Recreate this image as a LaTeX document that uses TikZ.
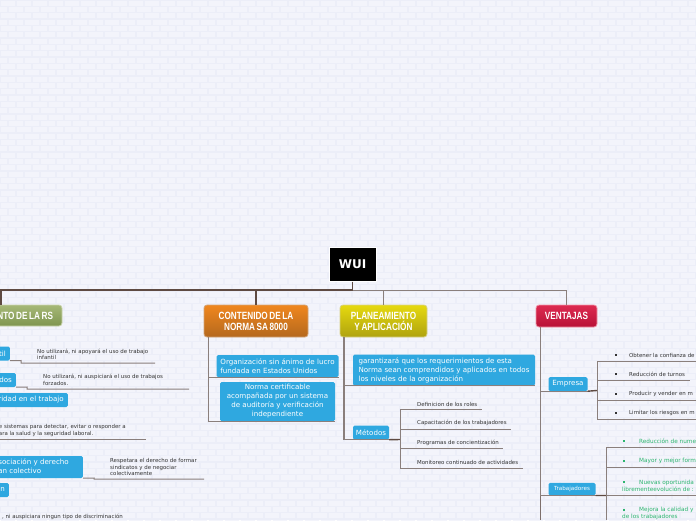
\documentclass[tikz,border=0pt]{standalone}
\usepackage{fontspec}
\setmainfont{DejaVu Sans}
\newfontfamily\headfont[FakeStretch=0.78]{Liberation Sans}
\newcommand{\tightwords}{\spaceskip 1.6pt\relax}
\usetikzlibrary{positioning}
\definecolor{wallbg}{HTML}{ECEEF8}
\definecolor{brick}{HTML}{F3F4FB}
\definecolor{bluebox}{HTML}{2FA8E0}
\definecolor{linedark}{HTML}{5E4A42}
\definecolor{linesoft}{HTML}{8A7F7C}
\definecolor{greentext}{HTML}{2DB56F}
\definecolor{smalltext}{HTML}{333333}
\definecolor{greentop}{HTML}{A6B877}
\definecolor{greenlow}{HTML}{7E9550}
\definecolor{orangetop}{HTML}{F0871E}
\definecolor{orangelow}{HTML}{B4681E}
\definecolor{yellowtop}{HTML}{E6D90F}
\definecolor{yellowlow}{HTML}{AFA30F}
\definecolor{redtop}{HTML}{DD2A50}
\definecolor{redlow}{HTML}{B81238}

\begin{document}
\begin{tikzpicture}[x=1pt,y=-1pt]

  \tikzstyle{topic}=[rounded corners=3pt,line width=0.8pt,inner sep=0pt,text=white,
                     align=center,font=\headfont\bfseries\fontsize{10.5}{11}\selectfont\tightwords]
  \tikzstyle{green topic}=[topic,draw=greentop!60!white,top color=greentop,bottom color=greenlow]
  \tikzstyle{orange topic}=[topic,draw=orangelow!60!white,top color=orangetop,bottom color=orangelow]
  \tikzstyle{yellow topic}=[topic,draw=yellowlow!50!white,top color=yellowtop,bottom color=yellowlow]
  \tikzstyle{red topic}=[topic,draw=redtop!50!white,top color=redtop,bottom color=redlow]
  \tikzstyle{box}=[rounded corners=1.5pt,fill=bluebox,inner sep=0pt,text=white,
                   font=\fontsize{7.1}{9}\selectfont]
  \tikzstyle{leaf}=[inner sep=0pt,anchor=west,align=left,text=smalltext,
                    font=\fontsize{5.45}{6.6}\selectfont]
  \tikzstyle{good leaf}=[leaf,text=greentext,font=\fontsize{5.75}{7.2}\selectfont]
  \tikzstyle{trunk}=[draw=linedark,line width=1.2pt]
  \tikzstyle{branch}=[draw=linesoft,line width=1pt]
  \tikzstyle{stub}=[draw=linedark,line width=1.4pt]

  \newcommand{\cutbox}[3]{\makebox[#1][r]{#3\hspace*{#2}}}
  \newcommand{\dotmark}{\rule[0.6pt]{2.2pt}{2.2pt}}

  \useasboundingbox (0,0) rectangle (696,520);
  \clip (0,0) rectangle (696,520);

  % wall
  \fill[wallbg] (0,0) rectangle (696,520);
  \foreach \r in {0,...,82} {
    \pgfmathsetmacro{\shift}{mod(\r,2)*8}
    \foreach \c in {-1,...,44} {
      \fill[brick] ({\c*16+\shift+0.6},{\r*6.33+0.6}) rectangle ({\c*16+\shift+15.4},{\r*6.33+5.7});
    }
  }

  % main topics
  \node [fill=black,draw=white,line width=1pt,minimum width=47pt,minimum height=34pt,inner sep=0pt,
         text=white,font=\fontsize{12}{13}\selectfont\bfseries] (wui) at (352.5,264) {WUI};
  \coordinate (hub) at (352.5,290);

  \node [green topic,minimum width=122pt,minimum height=21pt] (cumpl) at (1,315.5) {\cutbox{122pt}{9pt}{NTO DE LA RS}};
  \node [orange topic,minimum width=104pt,minimum height=32pt] (norma) at (256,321) {CONTENIDO DE LA\\NORMA SA 8000};
  \node [yellow topic,minimum width=87pt,minimum height=32pt] (plan) at (383.5,321) {PLANEAMIENTO\\Y APLICACIÓN};
  \node [red topic,minimum width=61pt,minimum height=22pt] (vent) at (566.5,316) {VENTAJAS};

  \draw[trunk] (wui.south) -- (hub);
  \draw[trunk] (hub) -| (cumpl.north);
  \draw[trunk] (hub) -| (norma.north);
  \draw[branch] (hub) -| (plan.north);
  \draw[branch] (hub) -| (vent.north);

  % contenido
  \node [box,minimum width=122pt,minimum height=22pt,align=left] (lucro) at (277.5,366)
    {Organización sin ánimo de lucro\\fundada en Estados Unidos};
  \node [box,minimum width=115pt,minimum height=39pt,align=center] (certif) at (277.5,401.5)
    {Norma certificable\\acompañada por un sistema\\de auditoría y verificación\\independiente};
  \coordinate (normaroot) at (208,337);
  \draw[branch] (normaroot) |- (lucro.south east);
  \draw[branch] (normaroot) |- (certif.south east);

  % planeamiento
  \node [box,minimum width=182pt,minimum height=31pt,align=left] (garant) at (444,370)
    {garantizará que los requerimientos de esta\\Norma sean comprendidos y aplicados en todos\\los niveles de la organización};
  \node [box,minimum width=36pt,minimum height=14pt] (metodos) at (371,432.5) {Métodos};
  \coordinate (planroot) at (344,337);
  \draw[trunk,draw=linesoft] (planroot) |- (garant.south east);
  \draw[trunk,draw=linesoft] (planroot) |- (metodos.south east);

  \coordinate (metfork) at (400,439.5);
  \coordinate (rolesend) at (482,409.5);
  \coordinate (capend) at (511,429);
  \coordinate (progend) at (503,448.5);
  \coordinate (monend) at (523,468);
  \draw[stub] (metodos.south east) -- (metfork);
  \draw[branch] (metfork) |- (rolesend);
  \draw[branch] (metfork) |- (capend);
  \draw[branch] (metfork) |- (progend);
  \draw[branch] (metfork) |- (monend);
  \node [leaf] (roles) at (417,404) {Definicion de los roles};
  \node [leaf] (capac) at (417,423) {Capacitación de los trabajadores};
  \node [leaf] (progr) at (417,443) {Programas de concientización};
  \node [leaf] (monit) at (417,462) {Monitoreo continuado de actividades};

  % ventajas
  \node [box,minimum width=39pt,minimum height=14pt] (empresa) at (568,384) {Empresa};
  \node [box,minimum width=47pt,minimum height=12.5pt,font=\fontsize{5.6}{7}\selectfont] (trabaj) at (572,489) {Trabajadores};
  \coordinate (ventroot) at (540.5,327);
  \coordinate (ventend) at (540.5,520);
  \draw[trunk,draw=linesoft!70!linedark] (ventroot) -- (ventend);
  \draw[branch] (ventroot) |- (empresa.south east);
  \draw[branch] (ventroot) |- (trabaj.south east);

  \coordinate (empfork) at (597,390.5);
  \coordinate (confend) at (696,361);
  \coordinate (turnend) at (690,380.5);
  \coordinate (prodend) at (696,400);
  \coordinate (riesend) at (696,419);
  \draw[stub] (empresa.south east) -- (empfork);
  \draw[branch] (empfork) |- (confend);
  \draw[branch] (empfork) |- (turnend);
  \draw[branch] (empfork) |- (prodend);
  \draw[branch] (empfork) |- (riesend);
  \node [leaf] (bulA) at (614.5,355) {\dotmark};
  \node [leaf] (bulB) at (614.5,374) {\dotmark};
  \node [leaf] (bulC) at (614.5,394) {\dotmark};
  \node [leaf] (bulD) at (614.5,413) {\dotmark};
  \node [leaf] (conf) at (629,355) {Obtener la confianza de};
  \node [leaf] (turn) at (629,374) {Reducción de turnos};
  \node [leaf] (prod) at (629,394) {Producir y vender en m};
  \node [leaf] (ries) at (629,413) {Limitar los riesgos en m};

  \coordinate (trabfork) at (606,495.5);
  \coordinate (numeend) at (696,447.5);
  \coordinate (formend) at (696,467.5);
  \coordinate (oporend) at (696,495.5);
  \coordinate (trabend) at (606,520);
  \draw[stub] (trabaj.south east) -- (trabfork);
  \draw[branch] (trabfork) |- (numeend);
  \draw[branch] (trabfork) |- (formend);
  \draw[branch] (trabfork) -- (oporend);
  \draw[branch] (trabfork) -- (trabend);
  \node [good leaf] (numebul) at (623,441) {\dotmark};
  \node [good leaf] (formbul) at (623,461) {\dotmark};
  \node [good leaf] (oporbul) at (623,482) {\dotmark};
  \node [good leaf] (mejobul) at (623,510) {\dotmark};
  \node [good leaf] (nume) at (639,441) {Reducción de nume};
  \node [good leaf] (form) at (639,461) {Mayor y mejor form};
  \node [good leaf] (opor) at (622,485.5) {\hspace*{17pt}Nuevas oportunida\\librementeevolución de :};
  \node [good leaf] (mejo) at (622,513.5) {\hspace*{17pt}Mejora la calidad y\\de los trabajadores};

  % cumplimiento
  \node [box,anchor=east,minimum width=40pt,minimum height=14pt] (infant) at (10,353.5) {\cutbox{40pt}{4pt}{til}};
  \node [box,anchor=east,minimum width=40pt,minimum height=14pt] (forzad) at (16,380) {\cutbox{40pt}{4pt}{dos}};
  \node [box,anchor=east,minimum width=90pt,minimum height=14pt] (seguri) at (68,400) {\cutbox{90pt}{4pt}{ridad en el trabajo}};
  \node [box,anchor=east,minimum width=110pt,minimum height=22pt] (asoc) at (83,467)
    {\cutbox{110pt}{14pt}{\begin{tabular}{@{}l@{}}sociación y derecho\\an colectivo\end{tabular}}};
  \node [box,anchor=east,minimum width=40pt,minimum height=14pt] (discr) at (9,490) {\cutbox{40pt}{4pt}{n}};

  \coordinate (infbend) at (21,360.5);
  \coordinate (infstep) at (21,363);
  \coordinate (infend) at (155,363);
  \draw[branch] (infant.south east) -- (infbend) -- (infstep) -- (infend);
  \coordinate (forbend) at (27,387);
  \coordinate (forstep) at (27,389);
  \coordinate (forend) at (189,389);
  \draw[branch] (forzad.south east) -- (forbend) -- (forstep) -- (forend);
  \coordinate (segstart) at (0,439.5);
  \coordinate (segend) at (146,439.5);
  \draw[branch] (segstart) -- (segend);
  \coordinate (asobend) at (94,478);
  \coordinate (asostep) at (94,479);
  \coordinate (asoend) at (204,479);
  \draw[branch] (asoc.south east) -- (asobend) -- (asostep) -- (asoend);

  \node [leaf] (trabinf) at (37,354.5) {No utilizará, ni apoyará el uso de trabajo\\infantil};
  \node [leaf] (trabfor) at (43,380) {No utilizará, ni auspiciará el uso de trabajos\\forzados.};
  \node [leaf,anchor=east] (sistem) at (126,430.5) {e sistemas para detectar, evitar o responder a\\ara la salud y la seguridad laboral.};
  \node [leaf] (sindic) at (110,467) {Respetara el derecho de formar\\sindicatos y de negociar\\colectivamente};
  \node [leaf,anchor=east] (ninguno) at (123,517) {, ni auspiciara ningun tipo de discriminación};

\end{tikzpicture}
\end{document}
